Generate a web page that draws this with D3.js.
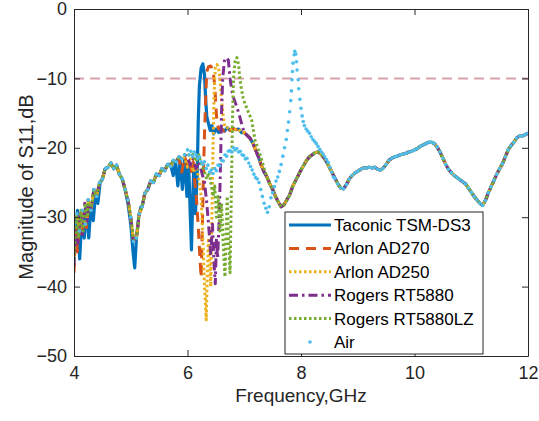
<!DOCTYPE html>
<html>
<head>
<meta charset="utf-8">
<script src="https://cdn.jsdelivr.net/npm/d3@7"></script>
<style>
  body { margin: 0; background: #fff; }
  text { font-family: "Liberation Sans", Arial, Helvetica, sans-serif; }
</style>
</head>
<body>
<svg id="chart" width="539" height="421"></svg>
<script>
// ---- data (GHz, dB) ----
const seriesNames = ["Taconic TSM-DS3", "Arlon AD270", "Arlon AD250", "Rogers RT5880", "Rogers RT5880LZ", "Air"];
const xTicks = [4, 6, 8, 10, 12];
const yTicks = [0, -10, -20, -30, -40, -50];
const threshold = -10;

// curve shared by all materials outside their own resonance
const common = [
  [4.00,-31],[4.05,-29.5],[4.10,-32],[4.15,-29],[4.20,-31],[4.25,-27.5],[4.30,-29],[4.35,-26],
  [4.40,-27],[4.45,-25],[4.50,-24.5],[4.55,-23],[4.60,-22.8],[4.65,-22.2],[4.70,-23],[4.75,-22.5],
  [4.80,-23.8],[4.85,-24.5],[4.90,-26],[4.95,-27.5],[5.00,-30],[5.05,-33.5],[5.10,-33],[5.15,-29.5],
  [5.20,-28.5],[5.25,-26.5],[5.30,-26],[5.35,-24.8],[5.40,-25],[5.45,-23.8],[5.50,-24],[5.55,-23],
  [5.60,-23.3],[5.65,-22.4],[5.70,-22.7],[5.75,-21.8],[5.80,-22],[5.85,-21.3],[5.90,-21.6],[5.95,-21],
  [6.00,-21.2],[6.05,-20.8],[6.10,-21.3],[6.15,-21],[6.20,-21.5],[6.25,-21],[6.30,-21.5],[6.35,-20],
  [6.40,-17],[6.45,-17.6],[6.50,-17.2],[6.55,-17.8],[6.60,-17.3],[6.65,-17.6],[6.70,-17.1],[6.75,-17.5],
  [6.80,-17.2],[6.85,-17.4],[6.90,-17.3],[6.95,-17.8],[7.00,-17.8],[7.05,-18.2],[7.10,-18.6],[7.15,-19.3],
  [7.20,-20.3],[7.25,-21.3],[7.30,-22.5],[7.35,-23.5],[7.40,-24.2],[7.45,-25.2],[7.50,-26],[7.55,-27],
  [7.60,-27.8],[7.65,-28.5],[7.70,-28.2],[7.75,-27.5],[7.80,-26.8],[7.85,-25.6],[7.90,-24.8],[7.95,-24],
  [8.00,-23.2],[8.05,-22.5],[8.10,-21.8],[8.15,-21.3],[8.20,-21],[8.25,-20.7],[8.30,-20.6],[8.35,-20.9],
  [8.40,-21.4],[8.45,-22],[8.50,-22.8],[8.55,-23.6],[8.60,-24.4],[8.65,-25.2],[8.70,-25.8],[8.75,-25.9],
  [8.80,-25.3],[8.85,-24.5],[8.90,-24],[8.95,-23.6],[9.00,-23.4],[9.05,-23.1],[9.10,-22.9],[9.15,-22.9],
  [9.20,-22.8],[9.25,-22.9],[9.30,-22.8],[9.35,-23.1],[9.40,-23.2],[9.45,-22.9],[9.50,-22.4],[9.55,-21.8],
  [9.60,-21.5],[9.65,-21.3],[9.70,-21.2],[9.75,-21],[9.80,-20.9],[9.85,-20.8],[9.90,-20.6],[9.95,-20.5],
  [10.00,-20.3],[10.05,-20.1],[10.10,-19.8],[10.15,-19.6],[10.20,-19.4],[10.25,-19.2],[10.30,-19.2],[10.35,-19.4],
  [10.40,-19.9],[10.45,-20.6],[10.50,-21.5],[10.55,-22.4],[10.60,-23.1],[10.65,-23.6],[10.70,-24],[10.75,-24.3],
  [10.80,-24.6],[10.85,-24.9],[10.90,-25.2],[10.95,-25.8],[11.00,-26.4],[11.05,-27],[11.10,-27.5],[11.15,-28],
  [11.20,-28.3],[11.25,-27.6],[11.30,-26.5],[11.35,-25.6],[11.40,-24.7],[11.45,-23.8],[11.50,-23],[11.55,-22.3],
  [11.60,-21.3],[11.65,-20.3],[11.70,-19.7],[11.75,-19.2],[11.80,-18.6],[11.85,-18.3],[11.90,-18.3],[11.95,-18.1],
  [12.00,-17.9]
];

// each material: segments that replace the common curve over their own range
const taconic = [
  [[4.00,-30],[4.03,-34],[4.06,-29],[4.10,-36],[4.14,-30],[4.18,-33],[4.22,-28.5],[4.26,-33],[4.30,-28],
   [4.34,-30.5],[4.38,-26.5],[4.42,-28],[4.46,-25]],
  [[4.95,-28],[5.00,-31],[5.04,-35],[5.07,-37.3],[5.10,-33],[5.14,-30],[5.18,-28.5]],
  [[5.70,-22.4],[5.75,-24],[5.79,-22],[5.83,-25.5],[5.87,-21.8],[5.91,-26],[5.95,-21.5],[5.99,-27],
   [6.02,-22],[6.05,-30],[6.07,-34.7],[6.09,-28],[6.11,-23],[6.14,-29.5],[6.17,-24],[6.19,-16],
   [6.21,-11],[6.24,-8.5],[6.27,-7.9],[6.30,-9.5],[6.32,-13],[6.34,-15.5],[6.37,-16.5],[6.40,-17.5],
   [6.43,-16.8],[6.46,-18],[6.50,-17.3]]
];
const arlon270 = [
  [[4.00,-38],[4.03,-31],[4.06,-35],[4.10,-30],[4.14,-33],[4.18,-29],[4.22,-31.5],[4.26,-28]],
  [[5.85,-21.5],[5.90,-23.5],[5.95,-21.3],[6.00,-22.5],[6.04,-21.8],[6.07,-23.4],[6.10,-22],[6.13,-25],
   [6.16,-27.5],[6.19,-31.5],[6.22,-36],[6.24,-38.7],[6.26,-32],[6.28,-24],[6.30,-18],[6.32,-13],
   [6.34,-9],[6.37,-8.3],[6.41,-8.2],[6.45,-8.8],[6.48,-11],[6.50,-14],[6.52,-16.4],[6.55,-17.3]]
];
const arlon250 = [
  [[5.95,-21.4],[6.00,-22.8],[6.05,-21.6],[6.10,-23.5],[6.15,-22.5],[6.20,-24.5],[6.24,-27],[6.27,-33],
   [6.30,-40],[6.33,-44.8],[6.35,-38],[6.37,-33],[6.39,-36],[6.41,-40],[6.43,-30],[6.45,-20],
   [6.47,-12],[6.49,-8.5],[6.52,-8],[6.55,-8.5],[6.57,-10],[6.60,-13],[6.63,-15.5],[6.66,-17]]
];
const rt5880 = [
  [[4.00,-37],[4.03,-32],[4.07,-34],[4.11,-29.5],[4.15,-32.5],[4.19,-28],[4.23,-30.5]],
  [[6.00,-21.3],[6.05,-22.5],[6.10,-21.5],[6.15,-23],[6.20,-22],[6.25,-23.5],[6.30,-25],[6.34,-28],
   [6.38,-32],[6.41,-35.5],[6.44,-31],[6.47,-37],[6.49,-39.6],[6.51,-33],[6.53,-36],[6.56,-30],
   [6.58,-23],[6.60,-15],[6.62,-10],[6.65,-7.5],[6.69,-7],[6.72,-7.4],[6.75,-10],[6.78,-11.7],
   [6.82,-13],[6.87,-14.1],[6.92,-15.5],[6.97,-17]]
];
const rt5880lz = [
  [[4.00,-36],[4.04,-30],[4.08,-33],[4.12,-29],[4.16,-32],[4.20,-28],[4.24,-30]],
  [[6.10,-21],[6.15,-22],[6.20,-21],[6.25,-22.5],[6.30,-23.5],[6.34,-24.5],[6.38,-23.5],[6.42,-25.5],
   [6.45,-27],[6.48,-25.5],[6.51,-30],[6.54,-27],[6.57,-32],[6.60,-28],[6.63,-34],[6.66,-38.6],
   [6.68,-32],[6.70,-27],[6.72,-33],[6.75,-38],[6.77,-28],[6.79,-17],[6.81,-10],[6.84,-7.5],
   [6.87,-7],[6.90,-8],[6.92,-9.8],[6.95,-11.5],[6.98,-12.8],[7.01,-13.6],[7.04,-14.2],[7.08,-15],
   [7.13,-16],[7.19,-18.9],[7.25,-20.3],[7.30,-21.5],[7.35,-23]]
];
const air = [
  [[5.95,-21],[6.00,-20.3],[6.03,-21],[6.06,-20.5],[6.09,-21.2],[6.12,-20.6],[6.15,-21],[6.18,-21.5],
   [6.21,-21.3],[6.24,-22],[6.27,-22.4],[6.30,-22],[6.33,-23],[6.36,-22.5],[6.39,-23.5],[6.42,-23.2],
   [6.45,-23.7],[6.48,-23],[6.51,-23.3],[6.54,-22.5],[6.57,-22.6],[6.60,-21.8],[6.63,-21.9],[6.66,-21],
   [6.69,-21.2],[6.72,-20.5],[6.75,-20.4],[6.78,-20.6],[6.81,-20],[6.84,-20.3],[6.87,-20.1],[6.90,-20.6],
   [6.93,-20.5],[6.96,-21],[6.99,-21.1],[7.02,-21.6],[7.05,-21.5],[7.08,-22.2],[7.11,-22.7],[7.14,-23.2],
   [7.17,-23.8],[7.20,-24.3],[7.23,-24.5],[7.26,-25],[7.29,-26],[7.32,-27],[7.35,-28],[7.38,-28.7],
   [7.41,-29.3],[7.44,-28.5],[7.47,-27.2],[7.50,-26.5],[7.53,-25.6],[7.56,-24.8],[7.59,-24.2],[7.62,-23.4],
   [7.65,-22.4],[7.68,-21.2],[7.71,-20],[7.74,-18.8],[7.76,-17.5],[7.78,-16.3],[7.80,-14.8],[7.82,-13.2],
   [7.83,-11.8],[7.84,-10.2],[7.85,-9],[7.86,-7.8],[7.88,-6.6],[7.89,-6.1],[7.91,-6.5],[7.92,-7.6],
   [7.93,-8.8],[7.95,-10.2],[7.96,-11.5],[7.98,-13],[8.00,-14.3],[8.02,-15.4],[8.04,-16.2],[8.06,-16.8],
   [8.09,-17.3],[8.12,-17.6],[8.15,-17.9],[8.18,-18.4],[8.21,-18.8],[8.24,-19.1],[8.27,-19.4],[8.30,-19.8],
   [8.33,-20.2],[8.36,-20.6],[8.39,-20.9],[8.42,-21.3],[8.45,-21.7],[8.48,-22.1],[8.51,-22.8],[8.54,-23.5],
   [8.57,-24.2]]
];

// ---- styles ----
const styles = [
  { color: "#0072BD", width: 3.2, dash: null },
  { color: "#D95319", width: 3,   dash: "10,7" },
  { color: "#EDB120", width: 3,   dash: "2.5,2.5" },
  { color: "#7E2F8E", width: 3,   dash: "9,4,2.5,4" },
  { color: "#77AC30", width: 3,   dash: "2.5,2.5" },
  { color: "#4DBEEE", width: 0,   dash: null, dots: true }
];

function buildSeries(segs) {
  let pts = common.slice();
  segs.forEach(seg => {
    const lo = seg[0][0], hi = seg[seg.length - 1][0];
    pts = pts.filter(p => p[0] < lo || p[0] > hi).concat(seg);
  });
  return pts.sort((a, b) => a[0] - b[0]);
}
const allSeries = [taconic, arlon270, arlon250, rt5880, rt5880lz, air].map(buildSeries);

const svg = d3.select("#chart");
const plot = { left: 74, top: 9, right: 528, bottom: 356 };

const x = d3.scaleLinear().domain([4, 12]).range([plot.left, plot.right]);
const y = d3.scaleLinear().domain([-50, 0]).range([plot.bottom, plot.top]);

svg.append("defs").append("clipPath").attr("id", "clip")
  .append("rect")
    .attr("x", plot.left).attr("y", plot.top)
    .attr("width", plot.right - plot.left).attr("height", plot.bottom - plot.top);

// -10 dB reference line
svg.append("line")
  .attr("x1", x(4)).attr("x2", x(12))
  .attr("y1", y(threshold)).attr("y2", y(threshold))
  .attr("stroke", "#d9a2ab").attr("stroke-width", 2)
  .attr("stroke-dasharray", "10,6");

const g = svg.append("g").attr("clip-path", "url(#clip)");
const line = d3.line().x(d => x(d[0])).y(d => y(d[1]));

allSeries.forEach((pts, i) => {
  const s = styles[i];
  if (s.dots) {
    g.append("g").selectAll("circle")
      .data(pts)
      .enter().append("circle")
        .attr("cx", d => x(d[0]))
        .attr("cy", d => y(d[1]))
        .attr("r", 1.8)
        .attr("fill", s.color);
  } else {
    g.append("path")
      .datum(pts)
      .attr("d", line)
      .attr("fill", "none")
      .attr("stroke", s.color)
      .attr("stroke-width", s.width)
      .attr("stroke-dasharray", s.dash)
      .attr("stroke-linejoin", "round");
  }
});

// axes (ticks inside, mirrored on top/right)
const axisColor = "#262626";
function styleAxis(sel) {
  sel.attr("font-family", null);
  sel.select(".domain").attr("stroke", axisColor);
  sel.selectAll(".tick line").attr("stroke", axisColor);
  sel.selectAll(".tick text").attr("fill", axisColor).style("font-size", "18px");
}
svg.append("g")
  .attr("transform", "translate(0," + plot.bottom + ")")
  .call(d3.axisBottom(x).tickValues(xTicks).tickSizeInner(-6).tickSizeOuter(0).tickPadding(10))
  .call(styleAxis);
svg.append("g")
  .attr("transform", "translate(0," + plot.top + ")")
  .call(d3.axisTop(x).tickValues(xTicks).tickSizeInner(-6).tickSizeOuter(0).tickFormat(""))
  .call(styleAxis);
svg.append("g")
  .attr("transform", "translate(" + plot.left + ",0)")
  .call(d3.axisLeft(y).tickValues(yTicks).tickSizeInner(-6).tickSizeOuter(0).tickPadding(7))
  .call(styleAxis);
svg.append("g")
  .attr("transform", "translate(" + plot.right + ",0)")
  .call(d3.axisRight(y).tickValues(yTicks).tickSizeInner(-6).tickSizeOuter(0).tickFormat(""))
  .call(styleAxis);

// axis titles
svg.append("text")
  .attr("x", (plot.left + plot.right) / 2).attr("y", 402)
  .attr("text-anchor", "middle")
  .attr("fill", axisColor)
  .style("font-size", "19px")
  .text("Frequency,GHz");
svg.append("text")
  .attr("transform", "translate(33," + 187 + ") rotate(-90)")
  .attr("text-anchor", "middle")
  .attr("fill", axisColor)
  .style("font-size", "20px")
  .text("Magnitude of S11,dB");

// legend
const legend = svg.append("g");
legend.append("rect")
  .attr("x", 285).attr("y", 212).attr("width", 198).attr("height", 142)
  .attr("fill", "#fff").attr("stroke", axisColor).attr("stroke-width", 1);
const rowY = d3.scaleLinear().domain([0, 5]).range([225, 342]);
seriesNames.forEach((name, i) => {
  const s = styles[i];
  const cy = rowY(i);
  if (s.dots) {
    legend.append("circle").attr("cx", 310).attr("cy", cy).attr("r", 1.8).attr("fill", s.color);
  } else {
    legend.append("line")
      .attr("x1", 289).attr("x2", 331).attr("y1", cy).attr("y2", cy)
      .attr("stroke", s.color).attr("stroke-width", s.width)
      .attr("stroke-dasharray", s.dash);
  }
  legend.append("text")
    .attr("x", 334).attr("y", cy).attr("dy", "0.35em")
    .attr("fill", "#000")
    .style("font-size", "17px")
    .text(name);
});
</script>
</body>
</html>
